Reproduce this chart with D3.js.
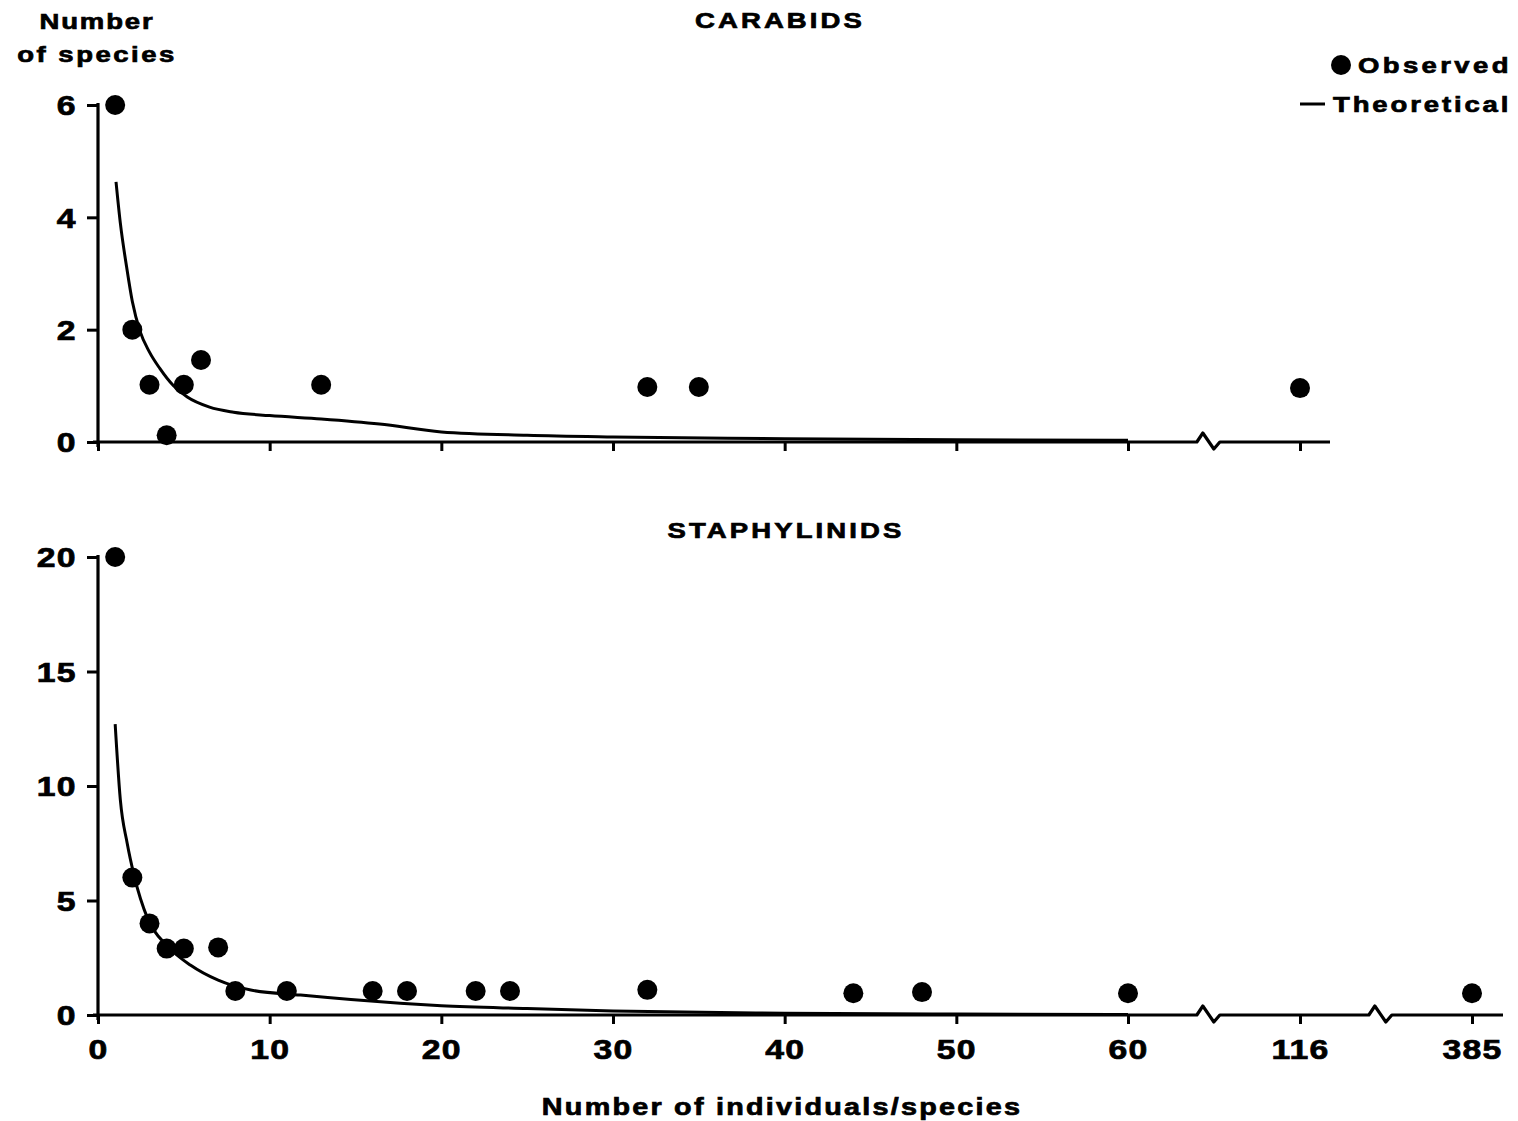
<!DOCTYPE html>
<html>
<head>
<meta charset="utf-8">
<script src="https://cdn.jsdelivr.net/npm/d3@7"></script>
<style>
  html, body { margin: 0; padding: 0; background: #fff; }
  svg text { font-family: "Liberation Sans", Arial, Helvetica, sans-serif; font-weight: bold; fill: #000; stroke: #000; stroke-width: 0.7px; }
</style>
</head>
<body>
<svg id="chart" width="1518" height="1121"></svg>
<script>
// ---- Data ----
const xTickValues = [0, 10, 20, 30, 40, 50, 60, 116, 385];
const topXTickValues = [0, 10, 20, 30, 40, 50, 60, 116];
const topYTicks = [0, 2, 4, 6];
const bottomYTicks = [0, 5, 10, 15, 20];

const carabidX = [1, 2, 3, 4, 5, 6, 13, 32, 35, 116];
const carabidY = [6, 2, 1.02, 0.12, 1.02, 1.46, 1.02, 0.98, 0.98, 0.96];
const carabidTheoX = [1.05, 1.3, 1.67, 2, 2.45, 3, 3.6, 4.4, 5.2, 6.5, 7.9, 10, 13, 16.4, 20, 25, 30, 40, 50, 60];
const carabidTheoY = [4.63, 3.9, 3.11, 2.5, 1.97, 1.6, 1.31, 1.0, 0.8, 0.62, 0.53, 0.47, 0.41, 0.32, 0.18, 0.12, 0.09, 0.06, 0.04, 0.03];

const staphX = [1, 2, 3, 4, 5, 7, 8, 11, 16, 18, 22, 24, 32, 44, 48, 60, 385];
const staphY = [20, 6, 4, 2.9, 2.9, 2.95, 1.05, 1.05, 1.05, 1.05, 1.05, 1.05, 1.1, 0.95, 1.0, 0.95, 0.95];
const staphTheoX = [1, 1.3, 1.7, 2.1, 2.9, 4, 5.4, 7, 8.9, 11.8, 17.6, 20, 25, 30, 40, 50, 60];
const staphTheoY = [12.7, 9.4, 7.5, 6.1, 4.2, 3.04, 2.17, 1.52, 1.09, 0.87, 0.51, 0.4, 0.28, 0.18, 0.08, 0.04, 0.02];

const titles = ["CARABIDS", "STAPHYLINIDS"];
const yLabelLines = ["Number", "of species"];
const xLabel = "Number of individuals/species";
const legendLabels = ["Observed", "Theoretical"];

// ---- Chart ----
const svg = d3.select("#chart");
svg.append("rect").attr("width", 1518).attr("height", 1121).attr("fill", "#fff");

const SX = 1.25; // horizontal stretch of the wide bold lettering

// broken x scale (piecewise linear)
const x = d3.scaleLinear().domain([0, 60, 116, 385]).range([98, 1128, 1300, 1472]);
const yTop = d3.scaleLinear().domain([0, 6]).range([442, 105]);
const yBot = d3.scaleLinear().domain([0, 20]).range([1015, 557]);

function zipXY(xs, ys) { return xs.map((v, i) => ({x: v, y: ys[i]})); }

function label(px, py, str, size, ls, anchor) {
  svg.append("g").attr("transform", `translate(${px},${py})`)
    .append("text").attr("transform", `scale(${SX},1)`)
    .attr("text-anchor", anchor || "middle")
    .style("font-size", size + "px").style("letter-spacing", ls + "px")
    .text(str);
}

function axisLineWithBreaks(g, y0, xStart, xEnd, breaks) {
  const p = d3.path();
  p.moveTo(xStart, y0);
  breaks.forEach(b => {
    p.lineTo(b - 12, y0);
    p.lineTo(b - 6, y0 - 9);
    p.lineTo(b + 5, y0 + 7);
    p.lineTo(b + 11, y0);
  });
  p.lineTo(xEnd, y0);
  g.append("path").attr("d", p.toString())
    .attr("fill", "none").attr("stroke", "#000").attr("stroke-width", 3.2)
    .attr("stroke-linejoin", "round");
}

function drawPanel(opts) {
  const {y, yTicks, xTicks, showXLabels, ptsX, ptsY, thX, thY, xEnd, breaks} = opts;
  const g = svg.append("g");
  const y0 = y(0);

  // y axis
  const ya = g.append("g").attr("transform", `translate(${x(0)},0)`)
    .call(d3.axisLeft(y).tickValues(yTicks).tickFormat(d3.format("d"))
      .tickSize(11).tickSizeOuter(0).tickPadding(12));
  ya.select(".domain").attr("stroke-width", 3.2).attr("d", `M0,${y(yTicks[yTicks.length-1]) - 2}V${y0 + 5}`);
  ya.selectAll(".tick line").attr("stroke-width", 3);
  ya.selectAll(".tick text")
    .style("font-size", "27px").style("letter-spacing", "1px")
    .attr("dy", "0.36em").attr("x", -17).attr("transform", `scale(${SX},1)`);

  // x axis
  const xa = g.append("g").attr("transform", `translate(0,${y0})`)
    .call(d3.axisBottom(x).tickValues(xTicks).tickSize(9).tickSizeOuter(0).tickPadding(16)
      .tickFormat(showXLabels ? d3.format("d") : () => ""));
  xa.select(".domain").remove();
  xa.selectAll(".tick line").attr("stroke-width", 3);
  xa.selectAll(".tick text").style("font-size", "27px").style("letter-spacing", "1px")
    .attr("transform", `scale(${SX},1)`);
  axisLineWithBreaks(g, y0, 93, xEnd, breaks);

  // theoretical curve
  const line = d3.line().x(d => x(d.x)).y(d => y(d.y)).curve(d3.curveMonotoneX);
  g.append("path").datum(zipXY(thX, thY))
    .attr("d", line).attr("fill", "none").attr("stroke", "#000").attr("stroke-width", 3);

  // observed points
  g.selectAll("circle.obs").data(zipXY(ptsX, ptsY)).join("circle")
    .attr("class", "obs")
    .attr("cx", d => x(d.x)).attr("cy", d => y(d.y)).attr("r", 10).attr("fill", "#000");
}

const brk1 = x(60) + 0.47 * (x(116) - x(60));
const brk2 = x(116) + 0.47 * (x(385) - x(116));

drawPanel({
  y: yTop, yTicks: topYTicks, xTicks: topXTickValues, showXLabels: false,
  ptsX: carabidX, ptsY: carabidY, thX: carabidTheoX, thY: carabidTheoY,
  xEnd: 1330, breaks: [brk1]
});
drawPanel({
  y: yBot, yTicks: bottomYTicks, xTicks: xTickValues, showXLabels: true,
  ptsX: staphX, ptsY: staphY, thX: staphTheoX, thY: staphTheoY,
  xEnd: 1503, breaks: [brk1, brk2]
});

// panel titles
label(780, 28, titles[0], 22, 2.5);
label(786, 538, titles[1], 22, 2.5);

// y-axis label (two lines)
label(97, 29, yLabelLines[0], 22, 1.5);
label(97, 62, yLabelLines[1], 22, 2);

// x-axis label
label(782, 1115, xLabel, 23, 1.8);

// legend
const lg = svg.append("g");
lg.append("circle").attr("cx", 1341).attr("cy", 65).attr("r", 10).attr("fill", "#000");
label(1358, 73, legendLabels[0], 22, 2.7, "start");
lg.append("line").attr("x1", 1300).attr("x2", 1325).attr("y1", 104).attr("y2", 104)
  .attr("stroke", "#000").attr("stroke-width", 3);
label(1333, 112, legendLabels[1], 22, 2.3, "start");
</script>
</body>
</html>
